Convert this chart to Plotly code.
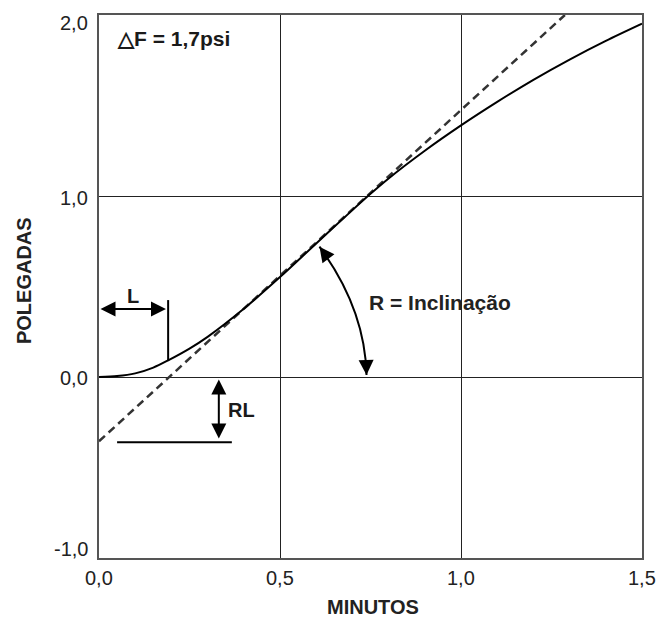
import plotly.graph_objects as go

# Measured filtration curve: time (minutes) vs. displacement (inches)
tempo = [0.0, 0.05, 0.10, 0.15, 0.191, 0.25, 0.30, 0.40, 0.50, 0.60,
         0.70, 0.75, 0.80, 0.90, 1.00, 1.10, 1.20, 1.30, 1.40, 1.50]
deslocamento = [0.0, 0.005, 0.02, 0.052, 0.092, 0.157, 0.222, 0.377, 0.552, 0.738,
                0.922, 1.012, 1.097, 1.25, 1.39, 1.52, 1.642, 1.754, 1.857, 1.952]

# Straight-line fit (tangent) through the linear portion
tangente_x = [0.0, 1.287]
tangente_y = [-0.355, 2.0]

# Annotation geometry values
lag_x = 0.191          # L: lag time where the tangent crosses zero
lag_y_top = 0.425
lag_arrow_y = 0.376
rl_x = 0.331           # RL: offset of the tangent at t = 0
rl_y = -0.34
rl_base_y = -0.36
rl_base_x = [0.05, 0.367]
slope_arc = dict(x0=0.609, y0=0.72, cx=0.735, cy=0.376, x1=0.739, y1=0.011)

x_ticks = [0.0, 0.5, 1.0, 1.5]
x_tick_text = ["0,0", "0,5", "1,0", "1,5"]
y_ticks = [-1.0, 0.0, 1.0, 2.0]
y_tick_text = ["-1,0", "0,0", "1,0", "2,0"]
y_tick_shift = [9, -1, -2, -8]   # keep the end labels inside the frame

FONT = "Liberation Sans, Arial, Helvetica, sans-serif"
INK = "#1a1a1a"

fig = go.Figure()

fig.add_trace(go.Scatter(
    x=tangente_x, y=tangente_y, mode="lines",
    line=dict(color="#333333", width=2.5, dash="8px,5px"),
    hoverinfo="skip", showlegend=False,
))
fig.add_trace(go.Scatter(
    x=tempo, y=deslocamento, mode="lines", line_shape="spline",
    line=dict(color="#000000", width=2, smoothing=0.8),
    hoverinfo="skip", showlegend=False,
))

shapes = [
    # vertical marker at the lag time
    dict(type="line", xref="x", yref="y", x0=lag_x, x1=lag_x,
         y0=deslocamento[4], y1=lag_y_top, line=dict(color="#000", width=2)),
    # base line for RL
    dict(type="line", xref="x", yref="y", x0=rl_base_x[0], x1=rl_base_x[1],
         y0=rl_base_y, y1=rl_base_y, line=dict(color="#000", width=2)),
    # curved arc for the slope angle
    dict(type="path", xref="x", yref="y",
         path=(f"M{slope_arc['x0']},{slope_arc['y0']} "
               f"Q{slope_arc['cx']},{slope_arc['cy']} {slope_arc['x1']},{slope_arc['y1']}"),
         line=dict(color="#000", width=2)),
]

arrow_style = dict(showarrow=True, arrowhead=2, arrowsize=1.5, arrowwidth=2, arrowcolor="#000")
text_font = dict(family=FONT, size=20, color=INK)

annotations = [
    # L double arrow
    dict(x=lag_x - 0.006, y=lag_arrow_y, ax=0.0, ay=lag_arrow_y, xref="x", yref="y",
         axref="x", ayref="y", text="", arrowside="end+start", **arrow_style),
    dict(x=0.093, y=0.45, xref="x", yref="y", text="<b>L</b>", showarrow=False, font=text_font),
    # RL double arrow
    dict(x=rl_x, y=rl_y, ax=rl_x, ay=-0.005, xref="x", yref="y",
         axref="x", ayref="y", text="", arrowside="end+start", **arrow_style),
    dict(x=0.35, y=-0.18, xref="x", yref="y", text="<b>RL</b>", showarrow=False,
         xanchor="left", font=text_font),
    # arrowheads at both ends of the slope arc
    dict(x=slope_arc["x0"], y=slope_arc["y0"], ax=9, ay=12, xref="x", yref="y",
         text="", **arrow_style),
    dict(x=slope_arc["x1"], y=slope_arc["y1"], ax=-0.4, ay=-15, xref="x", yref="y",
         text="", **arrow_style),
    dict(x=0.741, y=0.41, xref="x", yref="y", text="<b>R = Inclinação</b>", showarrow=False,
         xanchor="left", font=dict(family=FONT, size=21, color="#222")),
    # pressure differential
    dict(x=0.044, y=1.87, xref="x", yref="y", text="<b>△F = 1,7psi</b>", showarrow=False,
         xanchor="left", font=dict(family=FONT, size=21, color=INK)),
    # axis titles
    dict(x=0.5, y=0, xref="paper", yref="paper", yanchor="middle", yshift=-49,
         text="<b>MINUTOS</b>", showarrow=False, xshift=2,
         font=dict(family=FONT, size=20, color="#222")),
    dict(x=0, y=0.53, xref="paper", yref="y", xanchor="center", xshift=-75,
         text="<b>POLEGADAS</b>", textangle=-90, showarrow=False,
         font=dict(family=FONT, size=20, color="#222")),
]

tick_font = dict(family=FONT, size=20, color="#222")
for v, t in zip(x_ticks, x_tick_text):
    annotations.append(dict(x=v, y=0, xref="x", yref="paper", yanchor="middle", yshift=-20,
                            text=t, showarrow=False, font=tick_font))
for v, t, s in zip(y_ticks, y_tick_text, y_tick_shift):
    annotations.append(dict(x=0, y=v, xref="paper", yref="y", xanchor="right", xshift=-9,
                            yanchor="middle", yshift=s, text=t, showarrow=False, font=tick_font))

axis_common = dict(
    showgrid=True, gridcolor="#222222", gridwidth=1,
    showline=True, linecolor="#555555", linewidth=1.5, mirror=True,
    zeroline=False, ticks="", showticklabels=False, automargin=False,
)

fig.update_layout(
    width=658, height=619,
    margin=dict(l=99, r=16, t=15, b=61, autoexpand=False),
    paper_bgcolor="white", plot_bgcolor="white",
    shapes=shapes, annotations=annotations, showlegend=False,
    xaxis=dict(range=[0, 1.5], tickvals=x_ticks, **axis_common),
    yaxis=dict(range=[-1, 2], tickvals=y_ticks, **axis_common),
)

fig.write_html("out.html")
